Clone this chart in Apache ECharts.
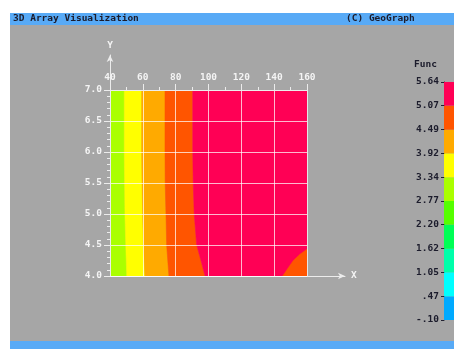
<!DOCTYPE html>
<html><head><meta charset="utf-8">
<script src="https://cdn.jsdelivr.net/npm/echarts@6/dist/echarts.min.js"></script>
<style>html,body{margin:0;padding:0;background:#fff}#chart{width:454px;height:349px}</style>
</head><body><div id="chart"></div>
<script>
// Band edges of the colour scale for Func
const funcLevels = [-0.10, 0.47, 1.05, 1.62, 2.20, 2.77, 3.34, 3.92, 4.49, 5.07, 5.64];

// Plot domain
const xDomain = [40, 160];
const yDomain = [4.0, 7.0];

// Isolines of Func, [x, y] from y = 7 down to y = 4
const iso334 = [[48.7, 7.0], [48.7, 6.0], [48.9, 5.5], [49.1, 5.0], [49.6, 4.5], [50.2, 4.0]];
const iso392 = [[59.3, 7.0], [59.3, 6.0], [59.5, 5.5], [59.9, 5.0], [60.3, 4.5], [61.3, 4.0]];
const iso449 = [[73.5, 7.0], [73.5, 6.0], [73.6, 5.5], [74.1, 5.0], [74.5, 4.5], [75.9, 4.0]];
const iso507 = [[90.4, 7.0], [90.4, 6.0], [90.7, 5.5], [91.3, 5.0], [92.8, 4.5], [95.9, 4.2], [97.9, 4.0]];
// Second branch of the 5.07 isoline in the lower right corner (bottom edge to right edge)
const iso507corner = [[145.2, 4.0], [148.5, 4.13], [151.7, 4.25], [155.7, 4.35], [160.0, 4.43]];

// Fill colour of each band (lowest band first)
const bandColors = ['#00aaff', '#00ffff', '#00ffaa', '#00ff55', '#55ff00',
                    '#aaff00', '#ffff00', '#ffaa00', '#ff5500', '#ff0055'];

const leftEdge = [[xDomain[0], yDomain[1]], [xDomain[0], yDomain[0]]];
const rightEdge = [[xDomain[1], yDomain[1]], [xDomain[1], yDomain[0]]];
function between(a, b) { return a.concat(b.slice().reverse()); }

// Filled regions: band index + outline polygon in data units
const regions = [
  { band: 5, poly: between(leftEdge, iso334) },
  { band: 6, poly: between(iso334, iso392) },
  { band: 7, poly: between(iso392, iso449) },
  { band: 8, poly: between(iso449, iso507) },
  { band: 9, poly: between(iso507, rightEdge) },
  { band: 8, poly: iso507corner.concat([[xDomain[1], yDomain[0]]]) }
];

const bandData = funcLevels.slice(0, -1).map((lo, i) => [0, lo, funcLevels[i + 1], i]);

const FONT = 'DejaVu Sans Mono';
const light = '#ececec';
const dark = '#1c1c2c';
const lbl = { fontFamily: FONT, fontWeight: 'bold', fontSize: 9.5 };

function fmtLevel(v) {
  return v.toFixed(2).replace(/^(-?)0\./, '$1.');
}

const chart = echarts.init(document.getElementById('chart'), null, { renderer: 'canvas' });
chart.setOption({
  backgroundColor: '#ffffff',
  animation: false,
  graphic: [
    { type: 'rect', z: -10, shape: { x: 10, y: 13, width: 444, height: 336 }, style: { fill: '#a6a6a6' } },
    { type: 'rect', z: -9, shape: { x: 10, y: 13, width: 444, height: 12 }, style: { fill: '#58aaf6' } },
    { type: 'rect', z: -9, shape: { x: 10, y: 341, width: 444, height: 8 }, style: { fill: '#58aaf6' } }
  ],
  title: [
    { text: '3D Array Visualization', left: 13, top: 13, padding: 0,
      textStyle: Object.assign({ color: dark, lineHeight: 12 }, lbl) },
    { text: '(C) GeoGraph', left: 346, top: 13, padding: 0,
      textStyle: Object.assign({ color: dark, lineHeight: 12 }, lbl) }
  ],
  grid: [
    { left: 110, top: 90, width: 197, height: 186 },
    { left: 110, top: 55, width: 235, height: 221 },
    { left: 444, top: 82, width: 14, height: 238 }
  ],
  xAxis: [
    {
      gridIndex: 0, type: 'value', position: 'top', min: xDomain[0], max: xDomain[1], interval: 20, z: 5,
      axisLine: { show: true, lineStyle: { color: light } },
      axisTick: { show: true, length: 6, lineStyle: { color: light } },
      minorTick: { show: true, splitNumber: 2, length: 3, lineStyle: { color: light } },
      axisLabel: Object.assign({ color: '#f4f4f4', margin: 7 }, lbl),
      splitLine: { show: true, lineStyle: { color: 'rgba(255,255,255,0.72)', width: 1 } }
    },
    {
      gridIndex: 1, type: 'value', min: 0, max: 1, name: 'X', nameLocation: 'end', nameGap: 6,
      nameTextStyle: Object.assign({ color: '#f4f4f4' }, lbl),
      axisLine: { show: true, symbol: ['none', 'arrow'], symbolSize: [5, 7], lineStyle: { color: light } },
      axisTick: { show: false }, axisLabel: { show: false }, splitLine: { show: false }
    },
    { gridIndex: 2, type: 'value', min: 0, max: 1, show: false }
  ],
  yAxis: [
    {
      gridIndex: 0, type: 'value', min: yDomain[0], max: yDomain[1], interval: 0.5, z: 5,
      axisLine: { show: true, lineStyle: { color: light } },
      axisTick: { show: true, length: 6, lineStyle: { color: light } },
      minorTick: { show: true, splitNumber: 5, length: 3, lineStyle: { color: light } },
      axisLabel: Object.assign({ color: '#f4f4f4', margin: 8, formatter: v => v.toFixed(1) }, lbl),
      splitLine: { show: true, lineStyle: { color: 'rgba(255,255,255,0.72)', width: 1 } }
    },
    {
      gridIndex: 1, type: 'value', min: 0, max: 1, name: 'Y', nameLocation: 'end', nameGap: 4,
      nameTextStyle: Object.assign({ color: '#f4f4f4' }, lbl),
      axisLine: { show: true, symbol: ['none', 'arrow'], symbolSize: [5, 7], lineStyle: { color: light } },
      axisTick: { show: false }, axisLabel: { show: false }, splitLine: { show: false }
    },
    {
      gridIndex: 2, type: 'value', min: funcLevels[0], max: funcLevels[funcLevels.length - 1],
      name: 'Func', nameLocation: 'end', nameGap: 12,
      nameTextStyle: Object.assign({ color: dark, align: 'right', padding: [0, 7, 0, 0] }, lbl),
      axisLine: { show: true, lineStyle: { color: '#202030' } },
      axisTick: { show: true, length: 3, customValues: funcLevels, lineStyle: { color: '#202030' } },
      axisLabel: Object.assign({ color: dark, margin: 5, customValues: funcLevels, formatter: fmtLevel }, lbl),
      splitLine: { show: false }
    }
  ],
  series: [
    {
      type: 'custom', xAxisIndex: 0, yAxisIndex: 0, clip: true, z: 2,
      data: regions.map((r, i) => [r.poly[0][0], r.poly[0][1], i]),
      renderItem: function (params, api) {
        const r = regions[params.dataIndex];
        return {
          type: 'polygon',
          shape: { points: r.poly.map(p => api.coord(p)) },
          style: { fill: bandColors[r.band], stroke: bandColors[r.band], lineWidth: 0.5 }
        };
      }
    },
    {
      type: 'custom', xAxisIndex: 2, yAxisIndex: 2, clip: false, z: 2,
      data: bandData,
      renderItem: function (params, api) {
        const p0 = api.coord([0, api.value(2)]);
        const p1 = api.coord([1, api.value(1)]);
        return {
          type: 'rect',
          shape: { x: p0[0], y: p0[1], width: p1[0] - p0[0], height: p1[1] - p0[1] },
          style: { fill: bandColors[api.value(3)] }
        };
      }
    }
  ]
});
</script>
</body></html>
